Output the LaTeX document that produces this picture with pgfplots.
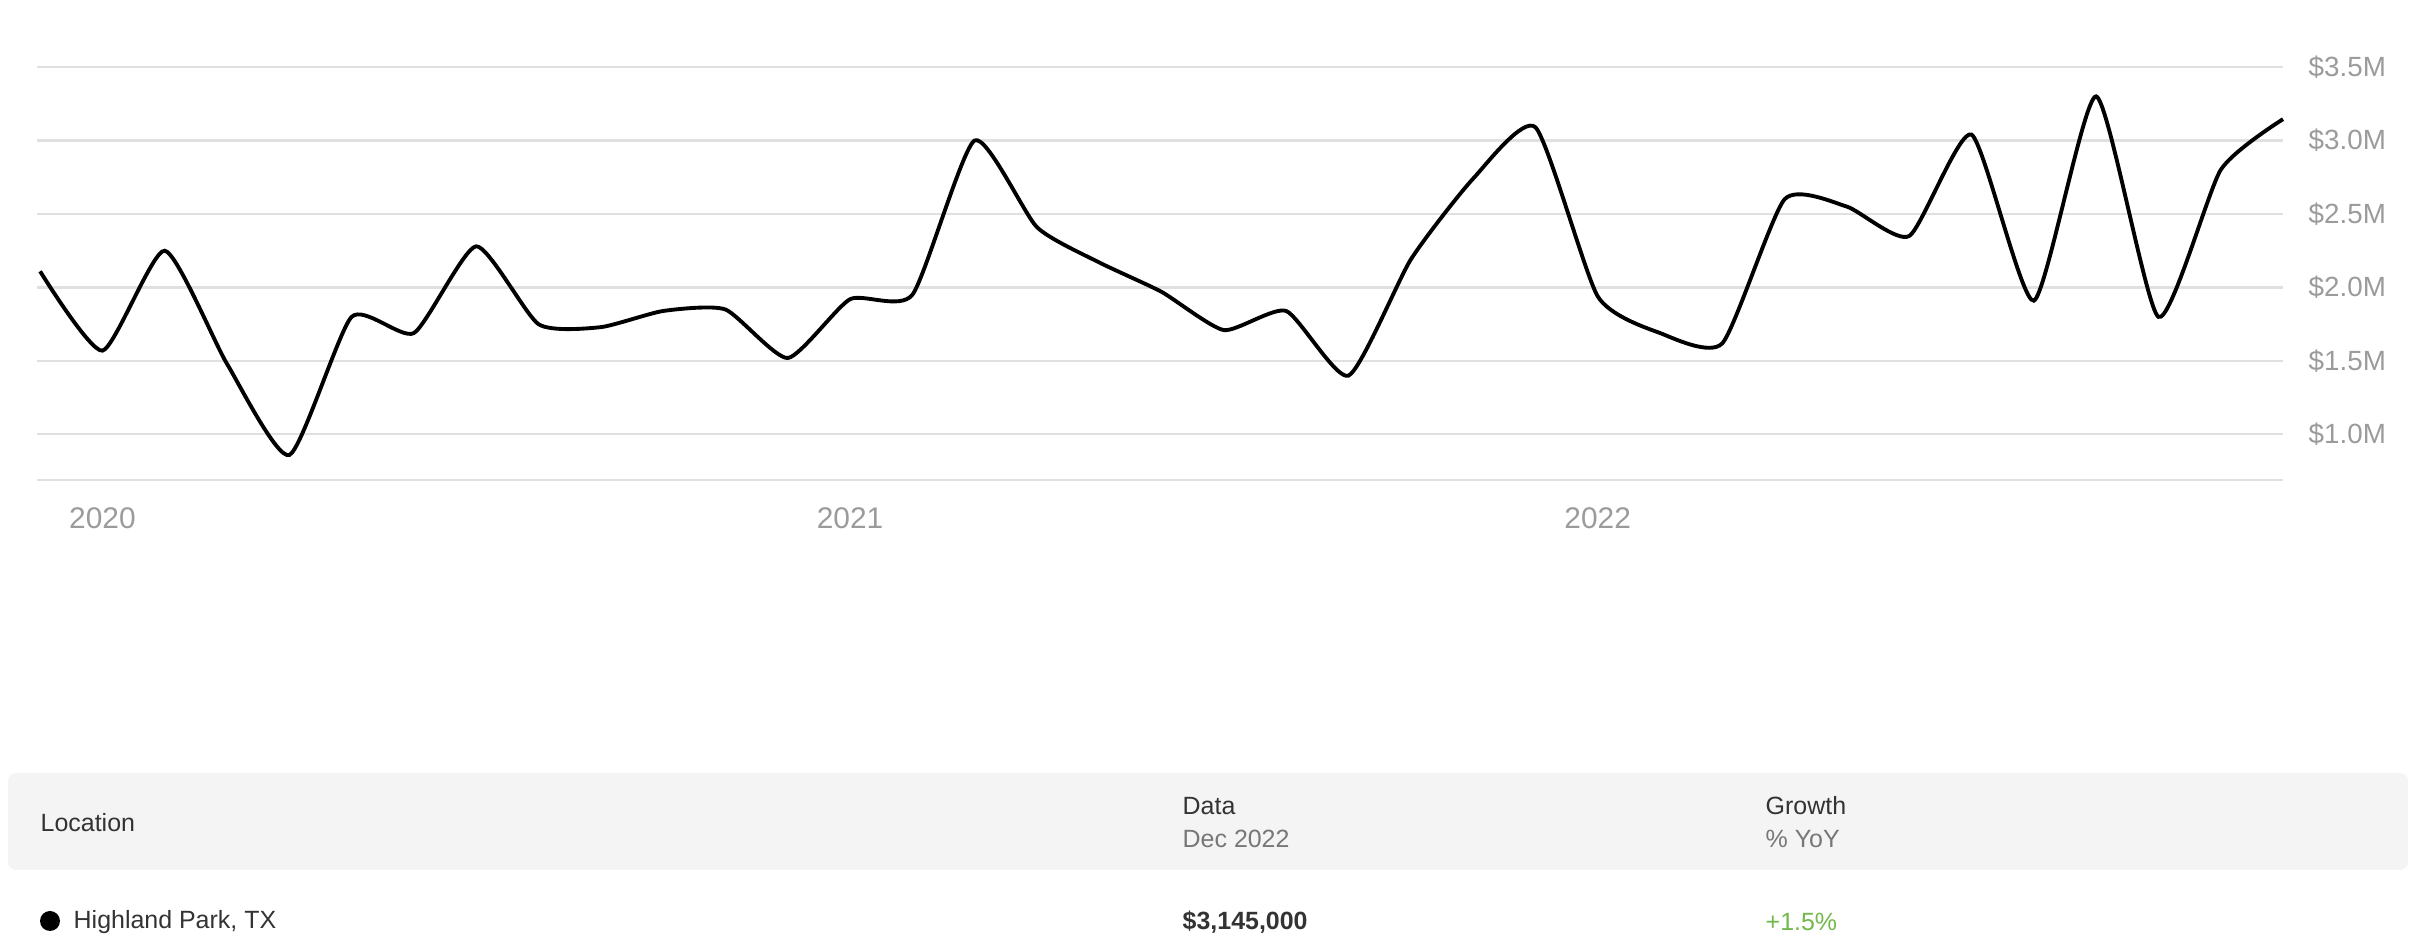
\documentclass[border=0pt]{standalone}
\usepackage{pgfplots}
\pgfplotsset{compat=1.18}
\usepackage{pgfplotstable}
\usepackage{fontspec}
\setmainfont{Liberation Sans}

\definecolor{gridgray}{HTML}{E0E0E0}
\definecolor{ticktext}{HTML}{9B9B9B}
\definecolor{rowbg}{HTML}{F4F4F4}
\definecolor{darktext}{HTML}{333333}
\definecolor{subtext}{HTML}{777777}
\definecolor{growth}{HTML}{72B84A}

% monthly median price, Dec 2019 (0) .. Dec 2022 (36), in $M
\pgfplotstableread{
m  price
0  2.11
1  1.57
2  2.25
3  1.48
4  0.86
5  1.80
6  1.69
7  2.28
8  1.75
9  1.73
10 1.84
11 1.85
12 1.52
13 1.92
14 1.95
15 3.00
16 2.41
17 2.17
18 1.97
19 1.71
20 1.84
21 1.40
22 2.19
23 2.74
24 3.09
25 1.94
26 1.69
27 1.62
28 2.60
29 2.55
30 2.35
31 3.04
32 1.91
33 3.30
34 1.80
35 2.80
36 3.145
}\pricedata

\begin{document}
\begin{tikzpicture}
\path[use as bounding box] (0,0) rectangle (24.22,9.5);

\begin{axis}[
    at={(0.37cm,4.70cm)}, anchor=south west,
    scale only axis,
    width=22.46cm, height=4.13cm,
    xmin=-0.05, xmax=36,
    ymin=0.69, ymax=3.5,
    clip=false,
    axis line style={draw=none},
    major tick length=0pt,
    xtick={1,13,25},
    xticklabels={2020,2021,2022},
    xticklabel style={font=\fontsize{8.5}{10}\selectfont, text=ticktext, inner sep=0pt, anchor=north, yshift=-0.27cm},
    ytick={1.0,1.5,2.0,2.5,3.0,3.5},
    yticklabel pos=right,
    yticklabel={\$\pgfmathprintnumber[fixed,fixed zerofill,precision=1]{\tick}M},
    yticklabel style={font=\fontsize{7.9}{10}\selectfont, text=ticktext, inner sep=0pt, anchor=west, xshift=0.25cm},
    /pgf/number format/assume math mode=true,
    ymajorgrids,
    grid style={gridgray, line width=0.6pt},
    extra y ticks={0.69},
    extra y tick labels={},
    extra y tick style={grid=major},
]
\addplot[black, line width=1.1pt, smooth, tension=0.35] table[x=m, y=price] {\pricedata};
\end{axis}

% summary table under the chart
\fill[rowbg, rounded corners=0.08cm] (0.08,0.80) rectangle (24.08,1.77);
\node[anchor=west, inner sep=0pt, text=darktext, font=\fontsize{7.1}{9}\selectfont] at (0.40,1.27) {Location};
\node[anchor=west, inner sep=0pt, text=darktext, font=\fontsize{7.1}{9}\selectfont] at (11.82,1.44) {Data};
\node[anchor=west, inner sep=0pt, text=subtext, font=\fontsize{7.1}{9}\selectfont] at (11.82,1.11) {Dec 2022};
\node[anchor=west, inner sep=0pt, text=darktext, font=\fontsize{7.1}{9}\selectfont] at (17.65,1.44) {Growth};
\node[anchor=west, inner sep=0pt, text=subtext, font=\fontsize{7.1}{9}\selectfont] at (17.65,1.11) {\% YoY};

\fill[black] (0.50,0.29) circle (0.10);
\node[anchor=west, inner sep=0pt, text=darktext, font=\fontsize{7.1}{9}\selectfont] at (0.73,0.28) {Highland Park, TX};
\node[anchor=west, inner sep=0pt, text=darktext, font=\fontsize{7.1}{9}\selectfont\bfseries] at (11.82,0.28) {\$3,145,000};
\node[anchor=west, inner sep=0pt, text=growth, font=\fontsize{7.1}{9}\selectfont] at (17.65,0.28) {+1.5\%};
\end{tikzpicture}
\end{document}
